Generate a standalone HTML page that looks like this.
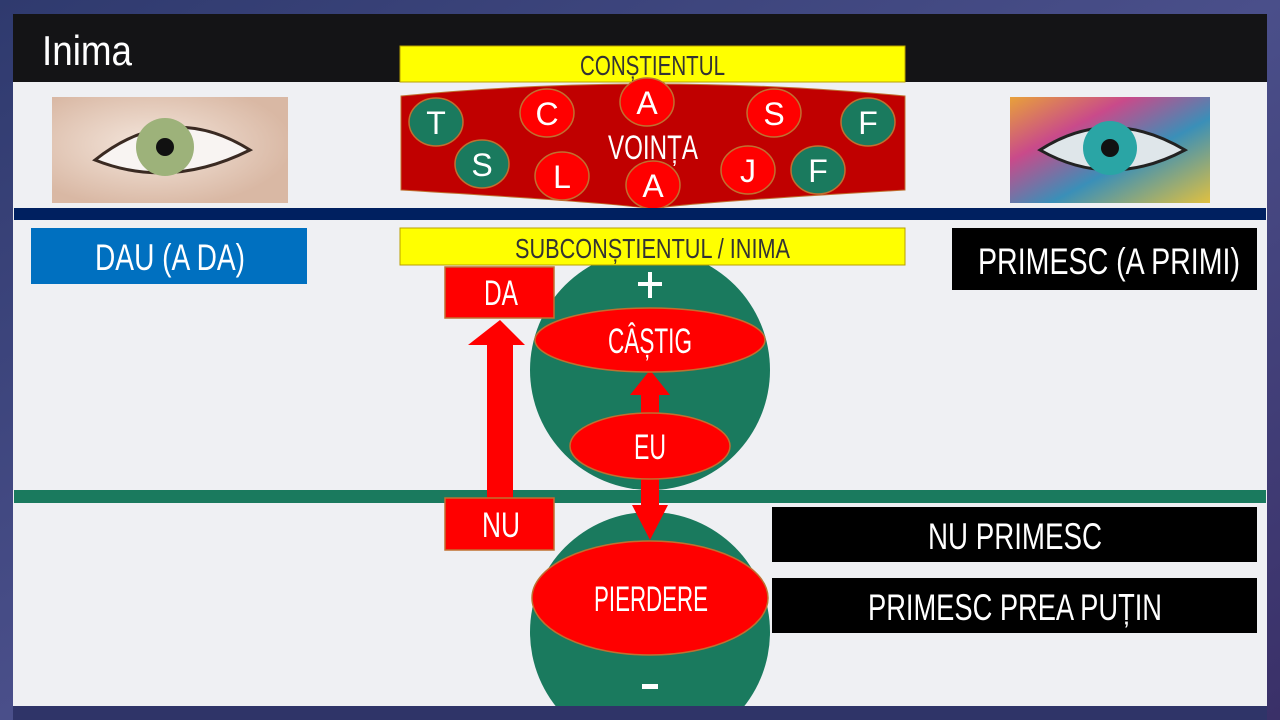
<!DOCTYPE html>
<html><head><meta charset="utf-8"><style>
html,body{margin:0;padding:0;width:1280px;height:720px;overflow:hidden;background:#3a3f72}
svg text{font-family:"Liberation Sans Narrow","Liberation Sans",sans-serif}
</style></head><body>
<svg width="1280" height="720" viewBox="0 0 1280 720" xmlns="http://www.w3.org/2000/svg">
<defs>
<linearGradient id="bg" x1="0" y1="0" x2="1" y2="1"><stop offset="0" stop-color="#2f3a6e"/><stop offset="0.5" stop-color="#4a4f8a"/><stop offset="1" stop-color="#3a3068"/></linearGradient>
<radialGradient id="eye1" cx="0.42" cy="0.45" r="0.6"><stop offset="0" stop-color="#f4e6dc"/><stop offset="1" stop-color="#d9b8a4"/></radialGradient>
<linearGradient id="eye2" x1="0" y1="0" x2="1" y2="1"><stop offset="0" stop-color="#e8a13a"/><stop offset="0.3" stop-color="#c94a8a"/><stop offset="0.6" stop-color="#3a8fb8"/><stop offset="1" stop-color="#e0c040"/></linearGradient>
</defs>
<rect width="1280" height="720" fill="url(#bg)"/>
<rect x="13" y="14" width="1254" height="692" fill="#eff0f3"/>
<rect x="13" y="14" width="1254" height="68" fill="#141416"/>
<text x="42" y="65" font-size="42" fill="#fff" textLength="90" lengthAdjust="spacingAndGlyphs">Inima</text>
<!-- left eye -->
<rect x="52" y="97" width="236" height="106" fill="url(#eye1)"/>
<path d="M95 160 Q170 100 250 150 Q170 190 95 160Z" fill="#f8f4f2" stroke="#3a2a22" stroke-width="3"/>
<circle cx="165" cy="147" r="29" fill="#9db27a"/>
<circle cx="165" cy="147" r="9" fill="#111"/>
<!-- right eye -->
<rect x="1010" y="97" width="200" height="106" fill="url(#eye2)"/>
<path d="M1040 150 Q1110 105 1185 150 Q1110 190 1040 150Z" fill="#dfe6ea" stroke="#222" stroke-width="3"/>
<circle cx="1110" cy="148" r="27" fill="#2aa5a5"/>
<circle cx="1110" cy="148" r="9" fill="#111"/>
<!-- yellow top -->
<rect x="400" y="46" width="505" height="36" fill="#ffff00" stroke="#b8a000"/>
<text x="580" y="75" font-size="28" fill="#333" textLength="145" lengthAdjust="spacingAndGlyphs">CONȘTIENTUL</text>
<!-- banner -->
<path d="M401 96 Q650 72 905 96 L905 190 Q650 205 652 210 Q650 205 401 190Z" fill="#c00000" stroke="#c07030"/>
<g stroke="#c07030" stroke-width="1.5">
<ellipse cx="436" cy="122" rx="27" ry="24" fill="#1a7a5e"/>
<ellipse cx="547" cy="113" rx="27" ry="24" fill="#ff0000"/>
<ellipse cx="647" cy="102" rx="27" ry="24" fill="#ff0000"/>
<ellipse cx="774" cy="113" rx="27" ry="24" fill="#ff0000"/>
<ellipse cx="868" cy="122" rx="27" ry="24" fill="#1a7a5e"/>
<ellipse cx="482" cy="164" rx="27" ry="24" fill="#1a7a5e"/>
<ellipse cx="562" cy="176" rx="27" ry="24" fill="#ff0000"/>
<ellipse cx="653" cy="185" rx="27" ry="24" fill="#ff0000"/>
<ellipse cx="748" cy="170" rx="27" ry="24" fill="#ff0000"/>
<ellipse cx="818" cy="170" rx="27" ry="24" fill="#1a7a5e"/>
</g>
<g font-size="32" fill="#fff" text-anchor="middle">
<text x="436" y="134">T</text><text x="547" y="125">C</text><text x="647" y="114">A</text>
<text x="774" y="125">S</text><text x="868" y="134">F</text><text x="482" y="176">S</text>
<text x="562" y="188">L</text><text x="653" y="197">A</text><text x="748" y="182">J</text>
<text x="818" y="182">F</text>
</g>
<text x="608" y="159" font-size="34" fill="#fff" textLength="90" lengthAdjust="spacingAndGlyphs">VOINȚA</text>
<!-- navy line -->
<rect x="14" y="208" width="1252" height="12" fill="#002060"/>
<!-- circles -->
<circle cx="650" cy="370" r="120" fill="#1a7a5e"/>
<!-- boxes -->
<rect x="31" y="228" width="276" height="56" fill="#0070c0"/>
<text x="95" y="270" font-size="37" fill="#fff" textLength="150" lengthAdjust="spacingAndGlyphs">DAU (A DA)</text>
<rect x="400" y="228" width="505" height="37" fill="#ffff00" stroke="#b8a000"/>
<text x="515" y="258" font-size="28" fill="#333" textLength="275" lengthAdjust="spacingAndGlyphs">SUBCONȘTIENTUL / INIMA</text>
<rect x="952" y="228" width="305" height="62" fill="#000"/>
<text x="978" y="274" font-size="37" fill="#fff" textLength="262" lengthAdjust="spacingAndGlyphs">PRIMESC (A PRIMI)</text>
<!-- green line -->
<rect x="14" y="490" width="1252" height="13" fill="#1a7a5e"/>
<circle cx="650" cy="632" r="120" fill="#1a7a5e"/>
<rect x="13" y="706" width="1254" height="14" fill="#2f3468"/>
<rect x="638" y="282" width="24" height="4" fill="#fff"/>
<rect x="648" y="272" width="4" height="26" fill="#fff"/>
<rect x="642" y="684" width="16" height="5" fill="#fff"/>
<!-- arrows -->
<path d="M487 498 L487 345 L468 345 L500 320 L525 345 L513 345 L513 498Z" fill="#ff0000"/>
<path d="M641 420 L641 395 L630 395 L650 370 L670 395 L659 395 L659 420Z" fill="#ff0000"/>
<path d="M641 470 L641 505 L632 505 L650 540 L668 505 L659 505 L659 470Z" fill="#ff0000"/>
<g stroke="#c07030" stroke-width="1.5" fill="#ff0000">
<ellipse cx="650" cy="340" rx="115" ry="32"/>
<ellipse cx="650" cy="446" rx="80" ry="33"/>
<ellipse cx="650" cy="598" rx="118" ry="57"/>
<rect x="445" y="267" width="109" height="51"/>
<rect x="445" y="498" width="109" height="52"/>
</g>
<g font-size="35" fill="#fff">
<text x="608" y="353" textLength="84" lengthAdjust="spacingAndGlyphs">CÂȘTIG</text>
<text x="634" y="459" textLength="32" lengthAdjust="spacingAndGlyphs">EU</text>
<text x="594" y="611" textLength="114" lengthAdjust="spacingAndGlyphs">PIERDERE</text>
<text x="484" y="305" textLength="34" lengthAdjust="spacingAndGlyphs">DA</text>
<text x="482" y="537" textLength="38" lengthAdjust="spacingAndGlyphs">NU</text>
</g>
<rect x="772" y="507" width="485" height="55" fill="#000"/>
<text x="928" y="549" font-size="37" fill="#fff" textLength="174" lengthAdjust="spacingAndGlyphs">NU PRIMESC</text>
<rect x="772" y="578" width="485" height="55" fill="#000"/>
<text x="868" y="620" font-size="37" fill="#fff" textLength="294" lengthAdjust="spacingAndGlyphs">PRIMESC PREA PUȚIN</text>
</svg>
</body></html>
